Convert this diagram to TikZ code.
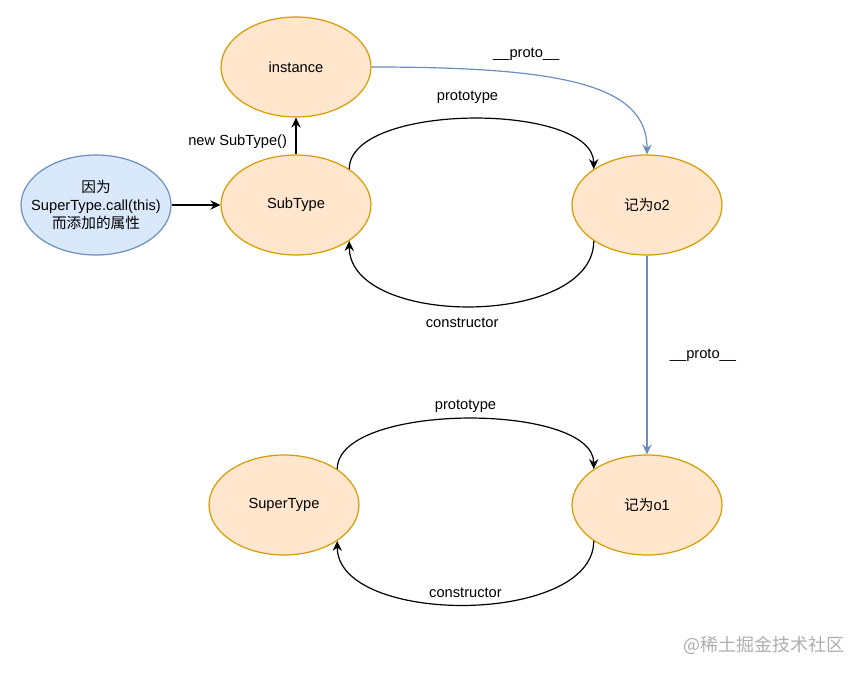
\documentclass[tikz,border=0pt]{standalone}
\usepackage{fontspec}
\setmainfont{Liberation Sans}
\newfontfamily\cjk{Noto Sans CJK SC}
\usetikzlibrary{arrows.meta,shapes.geometric}
\definecolor{peach}{HTML}{FFE6CC}
\definecolor{peachline}{HTML}{D79B00}
\definecolor{paleblue}{HTML}{DAE8FC}
\definecolor{blueline}{HTML}{6C8EBF}

\begin{document}
\begin{tikzpicture}[x=0.75pt,y=-0.75pt,
  font=\fontsize{11}{13.5}\selectfont,
  obj/.style={
    ellipse, draw=peachline, fill=peach, line width=0.9pt,
    minimum width=112.5pt, minimum height=75pt, inner sep=0pt,
  },
  attr obj/.style={obj, draw=blueline, fill=paleblue, align=center, inner xsep=-10pt},
  link/.style={line width=0.9pt, -{Stealth[length=7.5pt,width=7pt,inset=2.5pt]}},
  proto link/.style={link, draw=blueline},
  ]
  \useasboundingbox (0,0) rectangle (863,676);
  \node[obj] (inst) at (296,67) {instance};
  \node[obj] (sub) at (296,205) {SubType};
  \node[attr obj] (attr) at (96,205) {{\cjk 因为}\\SuperType.call(this)\\{\cjk 而添加的属性}};
  \node[obj] (o2) at (647,205) {{\cjk 记为}o2};
  \node[obj] (super) at (284,505) {SuperType};
  \node[obj] (o1) at (647,505) {{\cjk 记为}o1};
  \draw[link] (attr) -- (sub);
  \draw[link] (sub) -- node[pos=0.35, left=3pt] {new SubType()} (inst);
  \draw[link] (sub.34) .. controls +(0,-67) and +(0,-67) .. node[midway, yshift=16pt, xshift=-3pt] {prototype} (o2.146);
  \draw[link] (o2.214) .. controls +(0,87) and +(0,87) .. node[midway, yshift=-12.75pt, xshift=-7pt] {constructor} (sub.326);
  \draw[proto link] (inst.east) .. controls +(190,0) and +(0,-70) .. node[pos=0.33, yshift=15pt] {\_\_proto\_\_} (o2.north);
  \draw[proto link] (o2) -- node[midway, xshift=42pt] {\_\_proto\_\_} (o1);
  \draw[link] (super.34) .. controls +(0,-67) and +(0,-67) .. node[midway, yshift=9.75pt] {prototype} (o1.146);
  \draw[link] (o1.214) .. controls +(0,85) and +(0,85) .. node[midway, yshift=9pt] {constructor} (super.326);
  \node[text=black!32, font=\cjk\fontsize{13.5}{16}\selectfont] (mark) at (764,645) {@稀土掘金技术社区};
\end{tikzpicture}
\end{document}
